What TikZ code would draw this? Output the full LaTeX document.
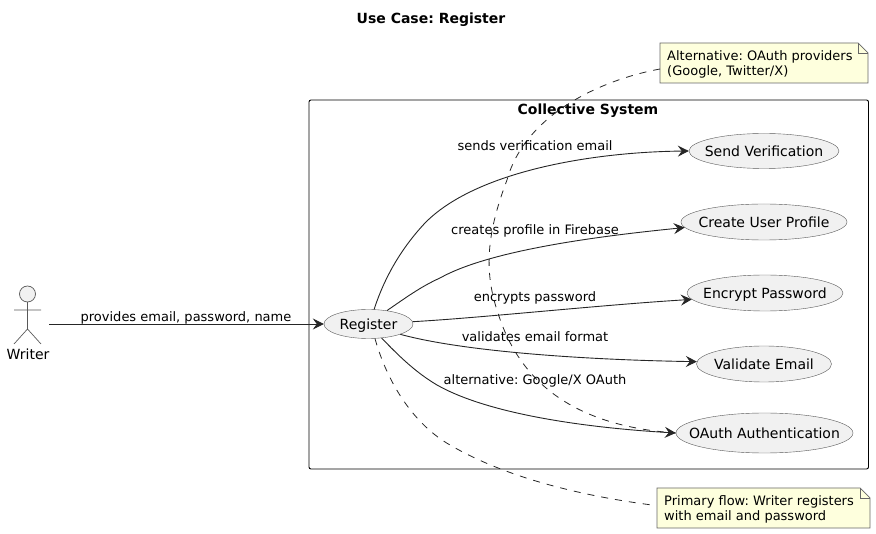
\documentclass[tikz,border=0pt]{standalone}
\usepackage{fontspec}
\setmainfont{DejaVu Sans}
\usetikzlibrary{arrows.meta, shapes.geometric}
\definecolor{notefill}{HTML}{FEFFDD}
\definecolor{usefill}{HTML}{F1F1F1}
\newcommand{\uctext}[1]{\makebox[0pt]{#1}}
\tikzset{
  usecase/.style={draw=black!65, fill=usefill, ellipse, inner sep=0pt, text height=12.5pt, text depth=0.5pt, font=\fontsize{14}{16}\selectfont},
  flow/.style={draw=black!85, line width=0.9pt, -{Stealth[length=11pt,width=11pt,inset=4pt]}},
  link/.style={draw=black!85, line width=0.8pt, dash pattern=on 7pt off 7pt},
  flowlabel/.style={font=\fontsize{13}{15}\selectfont, inner sep=0pt, anchor=base},
  notetext/.style={font=\fontsize{13}{15.5}\selectfont, align=left, inner sep=0pt, anchor=north west},
  notebox/.style={draw=black!60, fill=notefill, line width=0.7pt},
  stick/.style={draw=black!65, line width=0.7pt}
}
\begin{document}
\frenchspacing
\begin{tikzpicture}[x=1pt,y=-1pt]
\useasboundingbox (0,0) rectangle (876,534);

\node[font=\bfseries\fontsize{14}{16}\selectfont, anchor=base, inner sep=0pt] (title) at (431,24) {Use Case: Register};

% system box
\draw[line width=0.9pt, rounded corners=2pt] (309,100) rectangle (868.5,469);
\node[font=\bfseries\fontsize{14}{16}\selectfont, anchor=base, inner sep=0pt] (sys) at (588,115) {Collective System};

% actor
\draw[stick, fill=usefill] (27.5,294) circle (8);
\draw[stick] (27.5,302) -- (27.5,329) (14,310) -- (41,310) (14,344) -- (27.5,329) -- (41,344);
\node[font=\fontsize{14}{16}\selectfont, inner sep=0pt, anchor=base] (writer) at (28,360) {Writer};
\coordinate (writerout) at (49,324);

% use cases
\node[usecase, minimum width=89pt, minimum height=29pt] (register) at (368.5,324) {\uctext{Register}};
\node[usecase, minimum width=150pt, minimum height=35pt] (send) at (764,151) {\uctext{Send Verification}};
\node[usecase, minimum width=166pt, minimum height=36pt] (profile) at (764,222) {\uctext{Create User Profile}};
\node[usecase, minimum width=156pt, minimum height=36pt] (encrypt) at (765,293) {\uctext{Encrypt Password}};
\node[usecase, minimum width=135pt, minimum height=36pt] (validate) at (764,364) {\uctext{Validate Email}};
\node[usecase, minimum width=177pt, minimum height=40pt] (oauth) at (764.5,433) {\uctext{OAuth Authentication}};

% notes
\draw[notebox] (660,43) -- (858,43) -- (868,53) -- (868,83) -- (660,83) -- cycle;
\draw[notebox, fill=none] (858,43) -- (858,53) -- (868,53);
\node[notetext] (noteoauth) at (667,50) {Alternative: OAuth providers\\(Google, Twitter/X)};
\draw[notebox] (657,488) -- (860,488) -- (870,498) -- (870,528) -- (657,528) -- cycle;
\draw[notebox, fill=none] (860,488) -- (860,498) -- (870,498);
\node[notetext] (noteflow) at (664,495) {Primary flow: Writer registers\\with email and password};
\coordinate (noteoauthin) at (660,69);
\coordinate (noteflowin) at (652,505);

% flows
\draw[flow] (writerout) -- (register.west);
\draw[flow] (register.69) .. controls (381,288) and (395,255) .. (425,223) .. controls (475,172) and (590,152) .. (send.west);
\draw[flow] (register.36) .. controls (404,299) and (420,287) .. (440,278) .. controls (490,250) and (600,236) .. (profile.184);
\draw[flow] (register.3) .. controls (480,318) and (600,305) .. (encrypt.185);
\draw[flow] (register.-18) .. controls (465,352) and (590,360) .. (validate.178);
\draw[flow] (register.-47) .. controls (398,355) and (415,372) .. (437,385) .. controls (490,415) and (590,428) .. (oauth.west);

% note links
\draw[link] (noteoauthin) .. controls (600,80) and (525,115) .. (507,180) .. controls (490,225) and (482,265) .. (497,310) .. controls (515,370) and (560,425) .. (oauth.west);
\draw[link] (register.-66) .. controls (388,385) and (415,425) .. (450,445) .. controls (510,480) and (590,497) .. (noteflowin);

% labels
\node[flowlabel] (lblsend) at (535,151) {sends verification email};
\node[flowlabel] (lblprofile) at (535,234.5) {creates profile in Firebase};
\node[flowlabel] (lblencrypt) at (535,302) {encrypts password};
\node[flowlabel] (lblvalidate) at (535,342) {validates email format};
\node[flowlabel] (lbloauth) at (535,384.5) {alternative: Google/X OAuth};
\node[flowlabel] (lblwriter) at (186,322) {provides email, password, name};
\end{tikzpicture}
\end{document}
